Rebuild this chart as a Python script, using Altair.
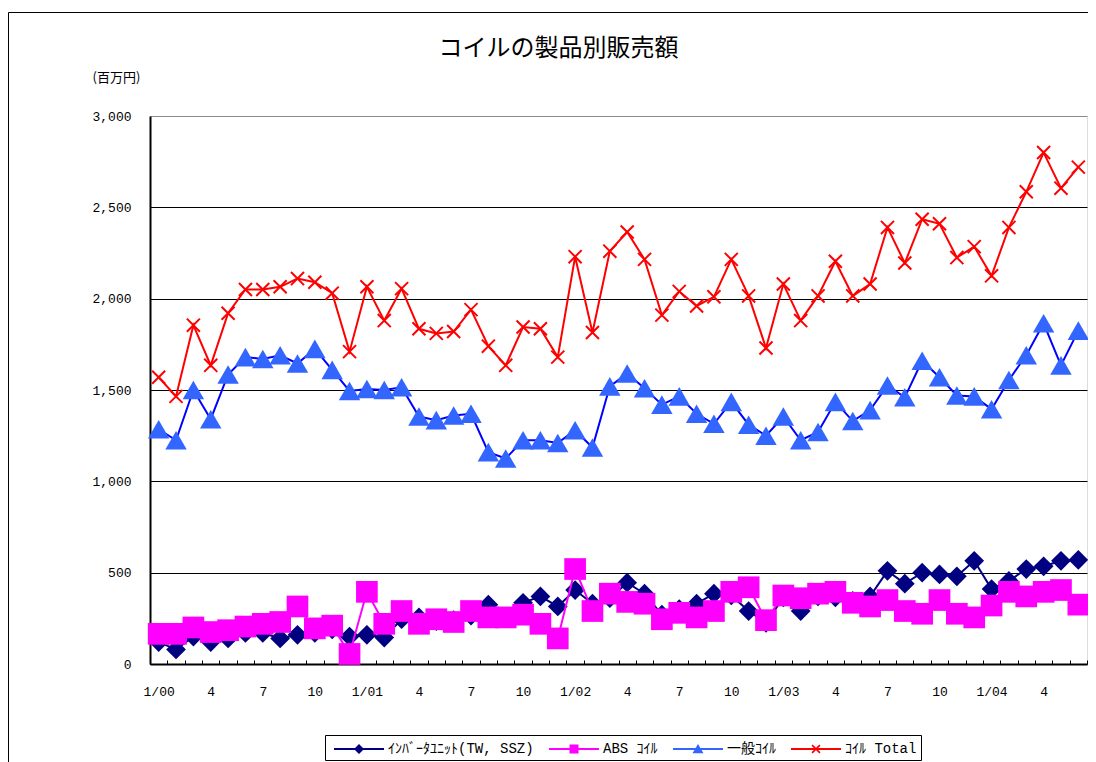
import json
import pandas as pd
import altair as alt

# ---------------- data ----------------
x_labels = ['1/00', '4', '7', '10', '1/01', '4', '7', '10', '1/02', '4', '7', '10',
            '1/03', '4', '7', '10', '1/04', '4']

inverter = [120, 80, 150, 120, 140, 170, 170, 140, 160, 170, 190,
            150, 160, 145, 245, 255, 235, 240, 265, 325, 260,
            335, 370, 315, 405, 330, 360, 445, 385, 270, 300, 330,
            385, 375, 290, 225, 365, 290, 370, 365, 345, 370, 510,
            440, 500, 490, 480, 565, 410, 455, 520, 535, 565, 570]

abs_coil = [165, 165, 200, 175, 185, 205, 220, 230, 315, 195, 210,
            55, 395, 220, 290, 220, 245, 230, 290, 255, 255,
            270, 220, 140, 520, 290, 385, 340, 330, 245, 280, 255,
            290, 395, 420, 240, 375, 360, 385, 395, 335, 315, 350,
            290, 275, 350, 275, 255, 320, 395, 370, 395, 405, 325]

ippan = [1285, 1225, 1500, 1340, 1585, 1680, 1670, 1690, 1645, 1725, 1610,
         1495, 1505, 1500, 1515, 1355, 1335, 1360, 1370, 1160, 1125,
         1225, 1225, 1210, 1280, 1185, 1520, 1590, 1510, 1420, 1465, 1370,
         1315, 1435, 1310, 1250, 1355, 1225, 1270, 1435, 1330, 1390, 1525,
         1460, 1660, 1570, 1470, 1465, 1395, 1555, 1690, 1865, 1635, 1825]

total = [1570, 1465, 1855, 1635, 1920, 2050, 2050, 2065, 2110, 2090, 2030,
         1710, 2065, 1880, 2055, 1835, 1810, 1820, 1940, 1740, 1635,
         1845, 1835, 1680, 2230, 1815, 2260, 2365, 2215, 1910, 2040, 1960,
         2010, 2215, 2015, 1730, 2080, 1880, 2015, 2205, 2015, 2080, 2390,
         2195, 2435, 2410, 2225, 2285, 2125, 2390, 2585, 2800, 2605, 2720]

series_names = ['ｲﾝﾊﾞｰﾀﾕﾆｯﾄ(TW, SSZ)', 'ABS ｺｲﾙ', '一般ｺｲﾙ', 'ｺｲﾙ Total']
y_ticks = [0, 500, 1000, 1500, 2000, 2500, 3000]

# ---------------- styles ----------------
line_colors = ['#000080', '#FF00FF', '#0000FF', '#FF0000']
marker_colors = ['#000080', '#FF00FF', '#3366FF', '#FF0000']
X_PATH = 'M-1,-1L1,1M1,-1L-1,1'

LINE = 'M-2.5,-0.1H2.5V0.1H-2.5Z'
legend_paths = [
    LINE + 'M0,-0.5L0.5,0L0,0.5L-0.5,0Z',
    LINE + 'M-0.45,-0.45H0.45V0.45H-0.45Z',
    LINE + 'M0,-0.5L0.55,0.42L-0.55,0.42Z',
    LINE + 'M-0.45,-0.33L-0.33,-0.45L0.45,0.33L0.33,0.45Z'
           'M0.33,-0.45L0.45,-0.33L-0.33,0.45L-0.45,0.33Z',
]

W, H = 937, 548
n = len(total)
month = list(range(n))

MONO = 'Liberation Mono, Noto Sans CJK JP'
JP = 'Noto Sans CJK JP'

xscale = alt.Scale(domain=[-0.5, n - 0.5], nice=False, zero=False)
yscale = alt.Scale(domain=[0, 3000], nice=False)

label_expr = json.dumps(x_labels, ensure_ascii=False) + '[round(datum.value / 3)]'

x_bottom_axis = alt.Axis(values=list(range(0, n, 3)), labelExpr=label_expr, ticks=False,
                         domain=True, domainColor='black', domainWidth=2, grid=False,
                         labelFont=MONO, labelFontSize=13, labelColor='black',
                         labelPadding=21, labelFlush=False, title=None)
x_tick_axis = alt.Axis(orient='top', offset=-H, values=[i - 0.5 for i in range(n + 1)],
                       labels=False, domain=False, ticks=True, tickSize=4,
                       tickColor='black', tickWidth=1, grid=False, title=None)
y_axis = alt.Axis(values=y_ticks, format=',.0f', ticks=False, domain=True,
                  domainColor='black', domainWidth=2, grid=True,
                  gridColor={"condition": {"test": "datum.value === 3000", "value": "#8a8a8a"},
                             "value": "black"},
                  gridWidth=1, labelFont=MONO, labelFontSize=13, labelColor='black',
                  labelPadding=19, title='(百万円)', titleAngle=0, titleX=-58, titleY=-39,
                  titleAlign='left', titleBaseline='middle', titleFont=JP,
                  titleFontSize=13, titleFontWeight='normal', titleColor='black')


def frame(values, name):
    return pd.DataFrame({'month': month, 'value': values, 'series': name})


layers = []

# outer chart-area border (decoration)
border = alt.Chart(pd.DataFrame({'k': [0]})).mark_rect(
    fillOpacity=0, stroke='black', strokeWidth=1).encode(
    x=alt.value(-141.5), x2=alt.value(W + 30), y=alt.value(-103.5), y2=alt.value(H + 130))
layers.append(border)

specs = [
    (inverter, 0, dict(shape='diamond', size=390, filled=True)),
    (abs_coil, 1, dict(shape='square', size=470, filled=True)),
    (ippan, 2, dict(shape='triangle-up', size=460, filled=True)),
    (total, 3, dict(shape=X_PATH, size=170, filled=False, strokeWidth=2)),
]

for k, (vals, idx, mk) in enumerate(specs):
    df = frame(vals, series_names[idx])
    if k == 0:
        xa, ya = x_bottom_axis, y_axis
    else:
        xa, ya = None, None
    line = alt.Chart(df).mark_line(color=line_colors[idx], strokeWidth=2).encode(
        x=alt.X('month:Q', scale=xscale, axis=xa),
        y=alt.Y('value:Q', scale=yscale, axis=ya),
        order='month:Q')
    pts = alt.Chart(df).mark_point(color=marker_colors[idx], opacity=1, **mk).encode(
        x=alt.X('month:Q', scale=xscale, axis=x_tick_axis if k == 0 else None),
        y=alt.Y('value:Q', scale=yscale, axis=None))
    layers += [line, pts]

legend_cfg = dict(title=None, orient='none', legendX=175, legendY=619,
                  direction='horizontal', symbolSize=400, symbolOffset=20,
                  symbolStrokeWidth=0, labelOffset=19, columnPadding=10,
                  labelFont=MONO, labelFontSize=14, labelColor='black',
                  strokeColor='black', fillColor='white', padding=4)

legend_layer = alt.Chart(pd.DataFrame({'series': series_names})).transform_filter(
    'false').mark_point(filled=True, opacity=1).encode(
    color=alt.Color('series:N', scale=alt.Scale(domain=series_names, range=marker_colors),
                    legend=alt.Legend(**legend_cfg)),
    shape=alt.Shape('series:N', scale=alt.Scale(domain=series_names, range=legend_paths),
                    legend=alt.Legend(**legend_cfg)))
layers.append(legend_layer)

chart = alt.layer(*layers).resolve_axis(x='independent', y='independent').properties(
    width=W, height=H,
    autosize=alt.AutoSizeParams(type='none'),
    padding={'left': 142, 'top': 108, 'right': 1, 'bottom': 100},
    title=alt.Title('コイルの製品別販売額', font=JP, fontSize=24, fontWeight='normal',
                    color='black', anchor='middle', frame='group', dx=-60, offset=0,
                    dy=68, baseline='alphabetic'),
).configure_view(stroke='#8a8a8a', strokeWidth=2).configure(background='white')

chart.save('out.html', embed_options={'renderer': 'svg', 'actions': False})
